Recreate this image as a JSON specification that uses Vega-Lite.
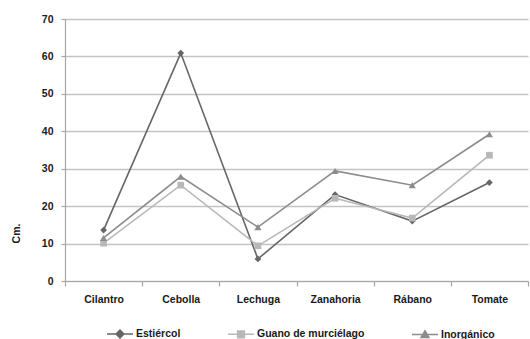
{
  "$schema": "https://vega.github.io/schema/vega-lite/v6.json",
  "width": 463,
  "height": 262,
  "autosize": {"type": "none"},
  "padding": {"left": 65, "top": 19, "right": 2, "bottom": 58},
  "background": "white",
  "config": {
    "view": {"stroke": null},
    "font": "Liberation Sans",
    "axis": {
      "labelFont": "Liberation Sans",
      "labelFontWeight": "bold",
      "labelFontSize": 10.5,
      "labelColor": "#1a1a1a",
      "domainColor": "#a6a6a6",
      "domainWidth": 1.2,
      "tickColor": "#a6a6a6",
      "tickWidth": 1.2,
      "gridColor": "#c4c4c4",
      "gridWidth": 1.4
    }
  },
  "data": {
    "values": [
      {"cultivo": "Cilantro", "abono": "Estiércol", "cm": 13.6},
      {"cultivo": "Cebolla", "abono": "Estiércol", "cm": 60.9},
      {"cultivo": "Lechuga", "abono": "Estiércol", "cm": 5.9},
      {"cultivo": "Zanahoria", "abono": "Estiércol", "cm": 23.1},
      {"cultivo": "Rábano", "abono": "Estiércol", "cm": 16.0},
      {"cultivo": "Tomate", "abono": "Estiércol", "cm": 26.3},
      {"cultivo": "Cilantro", "abono": "Guano de murciélago", "cm": 10.1},
      {"cultivo": "Cebolla", "abono": "Guano de murciélago", "cm": 25.6},
      {"cultivo": "Lechuga", "abono": "Guano de murciélago", "cm": 9.4},
      {"cultivo": "Zanahoria", "abono": "Guano de murciélago", "cm": 22.1},
      {"cultivo": "Rábano", "abono": "Guano de murciélago", "cm": 16.8},
      {"cultivo": "Tomate", "abono": "Guano de murciélago", "cm": 33.6},
      {"cultivo": "Cilantro", "abono": "Inorgánico", "cm": 11.5},
      {"cultivo": "Cebolla", "abono": "Inorgánico", "cm": 27.9},
      {"cultivo": "Lechuga", "abono": "Inorgánico", "cm": 14.4},
      {"cultivo": "Zanahoria", "abono": "Inorgánico", "cm": 29.4},
      {"cultivo": "Rábano", "abono": "Inorgánico", "cm": 25.6},
      {"cultivo": "Tomate", "abono": "Inorgánico", "cm": 39.2}
    ]
  },
  "encoding": {
    "x": {
      "field": "cultivo",
      "type": "nominal",
      "sort": ["Cilantro", "Cebolla", "Lechuga", "Zanahoria", "Rábano", "Tomate"],
      "scale": {"type": "band", "paddingInner": 0, "paddingOuter": 0},
      "axis": {
        "title": null,
        "labelAngle": 0,
        "grid": false,
        "ticks": true,
        "tickSize": 5,
        "tickBand": "extent",
        "labelPadding": 8
      }
    },
    "y": {
      "field": "cm",
      "type": "quantitative",
      "scale": {"domain": [0, 70], "nice": false, "zero": true},
      "axis": {
        "values": [0, 10, 20, 30, 40, 50, 60, 70],
        "title": "Cm.",
        "titleFont": "Liberation Sans",
        "titleFontWeight": "bold",
        "titleFontSize": 10.5,
        "titleColor": "#1a1a1a",
        "titleY": 214,
        "titleX": -44,
        "tickSize": 4,
        "labelPadding": 8,
        "grid": true
      }
    },
    "color": {
      "field": "abono",
      "type": "nominal",
      "scale": {
        "domain": ["Estiércol", "Guano de murciélago", "Inorgánico"],
        "range": ["#666666", "#b8b8b8", "#8c8c8c"]
      },
      "legend": {
        "title": null,
        "orient": "none",
        "direction": "horizontal",
        "legendX": 41,
        "legendY": 301,
        "columnPadding": 44,
        "labelFont": "Liberation Sans",
        "labelFontWeight": "bold",
        "labelFontSize": 10.5,
        "labelColor": "#1a1a1a",
        "labelOffset": 2,
        "symbolSize": 676,
        "symbolStrokeWidth": 1.5,
        "symbolOpacity": 1,
        "encode": {
          "symbols": {
            "update": {
              "shape": {"signal": "datum.value === 'Estiércol' ? 'M-1,0L1,0M0,-0.3L0.3,0L0,0.3L-0.3,0Z' : datum.value === 'Inorgánico' ? 'M-1,0L1,0M0,-0.3L0.3,0.22L-0.3,0.22Z' : 'M-1,0L1,0M-0.26,-0.26L0.26,-0.26L0.26,0.26L-0.26,0.26Z'"},
              "fill": {"signal": "scale('color', datum.value)"},
              "stroke": {"signal": "scale('color', datum.value)"},
              "strokeWidth": {"value": 1.5}
            }
          }
        }
      }
    }
  },
  "layer": [
    {
      "mark": {"type": "line", "strokeWidth": 1.6}
    },
    {
      "transform": [{"filter": "datum.abono === 'Estiércol'"}],
      "mark": {"type": "point", "shape": "diamond", "filled": true, "opacity": 1, "size": 45}
    },
    {
      "transform": [{"filter": "datum.abono === 'Guano de murciélago'"}],
      "mark": {"type": "point", "shape": "square", "filled": true, "opacity": 1, "size": 45}
    },
    {
      "transform": [{"filter": "datum.abono === 'Inorgánico'"}],
      "mark": {"type": "point", "shape": "triangle-up", "filled": true, "opacity": 1, "size": 50}
    }
  ]
}
